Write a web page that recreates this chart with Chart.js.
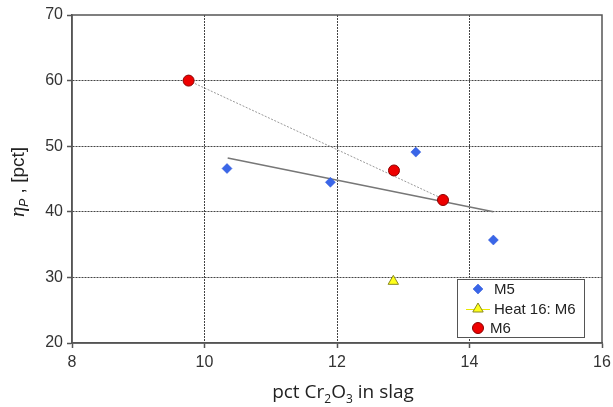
<!DOCTYPE html>
<html>
<head>
<meta charset="utf-8">
<script src="https://cdn.jsdelivr.net/npm/chart.js@4"></script>
<style>
  html, body { margin: 0; padding: 0; background: #fff; }
  #wrap { width: 613px; height: 407px; position: relative; }
</style>
</head>
<body>
<div id="wrap"><canvas id="grafico"></canvas></div>
<script>
// datos
const xTicks = [8, 10, 12, 14, 16];
const yTicks = [20, 30, 40, 50, 60, 70];

const m5X = [10.34, 11.90, 13.19, 14.36];
const m5Y = [46.6, 44.5, 49.1, 35.7];

const heatX = [12.85];
const heatY = [29.4];

const m6X = [9.76, 12.86, 13.60];
const m6Y = [60.0, 46.3, 41.8];

// lineas de tendencia (extremos)
const fitM5X = [10.35, 14.36];
const fitM5Y = [48.2, 40.0];
const fitM6X = [9.76, 13.55];
const fitM6Y = [60.0, 42.2];

const legendLabels = ['M5', 'Heat 16: M6', 'M6'];

const pares = (xs, ys) => xs.map((x, i) => ({ x: x, y: ys[i] }));

// leyenda dentro del area
const leyendaPlugin = {
    id: 'leyenda',
    afterDraw(chart) {
        const ctx = chart.ctx;
        const bx = 457, by = 279, bw = 127, bh = 58;
        ctx.save();
        ctx.fillStyle = '#fff';
        ctx.fillRect(bx, by, bw, bh);
        ctx.strokeStyle = '#555';
        ctx.lineWidth = 1;
        ctx.strokeRect(bx + 0.5, by + 0.5, bw, bh);

        const filas = [289, 309, 328];
        const ds = chart.data.datasets;
        ctx.font = '15px "Liberation Sans", Arial, sans-serif';
        ctx.textBaseline = 'middle';
        legendLabels.forEach((txt, i) => {
            const d = ds[i];
            const y = filas[i];
            if (i === 1) {
                ctx.strokeStyle = '#e8e800';
                ctx.lineWidth = 1;
                ctx.beginPath();
                ctx.moveTo(466, y + 0.5);
                ctx.lineTo(490, y + 0.5);
                ctx.stroke();
            }
            ctx.fillStyle = d.backgroundColor;
            ctx.strokeStyle = d.borderColor;
            ctx.lineWidth = d.borderWidth;
            Chart.helpers.drawPoint(ctx, {
                pointStyle: d.pointStyle,
                radius: d.pointRadius,
                rotation: 0,
                borderWidth: d.borderWidth
            }, 478, y);
            ctx.fillStyle = '#222';
            ctx.fillText(txt, i === 2 ? 490 : 494, y + 1);
        });
        ctx.restore();
    }
};

// marco y titulos de ejes
const marcoPlugin = {
    id: 'marco',
    beforeDatasetsDraw(chart) {
        const a = chart.chartArea;
        const ctx = chart.ctx;
        ctx.save();
        ctx.strokeStyle = '#555';
        ctx.lineWidth = 1.5;
        ctx.strokeRect(a.left, a.top, a.right - a.left, a.bottom - a.top);
        ctx.restore();
    },
    afterDraw(chart) {
        const ctx = chart.ctx;
        ctx.save();
        ctx.fillStyle = '#222';
        ctx.textBaseline = 'alphabetic';

        // titulo eje x con subindices
        const partes = [
            ['pct Cr', 19, 0], ['2', 12, 5], ['O', 19, 0], ['3', 12, 5], [' in slag', 19, 0]
        ];
        const fuente = s => s + 'px "Open Sans", sans-serif';
        let total = 0;
        partes.forEach(p => { ctx.font = fuente(p[1]); total += ctx.measureText(p[0]).width; });
        let x = 343 - total / 2;
        partes.forEach(p => {
            ctx.font = fuente(p[1]);
            ctx.fillText(p[0], x, 398 + p[2]);
            x += ctx.measureText(p[0]).width;
        });

        // titulo eje y
        ctx.translate(24, 182);
        ctx.rotate(-Math.PI / 2);
        const py = [
            ['\u03b7', 'italic 21px "Liberation Serif", serif', 0],
            ['P', 'italic 12px "Liberation Sans", sans-serif', 4],
            [' , [pct]', '19px "Liberation Sans", sans-serif', 0]
        ];
        total = 0;
        py.forEach(p => { ctx.font = p[1]; total += ctx.measureText(p[0]).width; });
        x = -total / 2;
        py.forEach(p => {
            ctx.font = p[1];
            ctx.fillText(p[0], x, p[2]);
            x += ctx.measureText(p[0]).width;
        });
        ctx.restore();
    }
};

const colorRejilla = c => (c.tick && (c.tick.value === xTicks[0] || c.tick.value === xTicks[xTicks.length - 1]
    || c.tick.value === yTicks[0] || c.tick.value === yTicks[yTicks.length - 1])) ? 'rgba(0,0,0,0)' : '#444';

const fuenteTicks = { family: '"Liberation Sans", Arial, sans-serif', size: 16 };

new Chart(document.getElementById('grafico'), {
    type: 'scatter',
    data: {
        datasets: [
            {
                label: legendLabels[0],
                data: pares(m5X, m5Y),
                pointStyle: 'rectRot',
                pointRadius: 5,
                backgroundColor: '#3a66e8',
                borderColor: '#2a55d8',
                borderWidth: 0.5
            },
            {
                label: legendLabels[1],
                data: pares(heatX, heatY),
                pointStyle: 'triangle',
                pointRadius: 6,
                backgroundColor: '#ffff1a',
                borderColor: '#8a8a20',
                borderWidth: 1
            },
            {
                label: legendLabels[2],
                data: pares(m6X, m6Y),
                pointStyle: 'circle',
                pointRadius: 5.5,
                backgroundColor: '#ee0000',
                borderColor: '#8a0000',
                borderWidth: 1
            },
            {
                label: 'fit M5',
                data: pares(fitM5X, fitM5Y),
                showLine: true,
                pointRadius: 0,
                borderColor: '#777',
                borderWidth: 1.5
            },
            {
                label: 'fit M6',
                data: pares(fitM6X, fitM6Y),
                showLine: true,
                pointRadius: 0,
                borderColor: '#999',
                borderWidth: 1,
                borderDash: [2, 1.5]
            }
        ]
    },
    options: {
        responsive: true,
        maintainAspectRatio: false,
        animation: false,
        layout: { padding: { top: 15, right: 11, left: 0, bottom: 0 } },
        plugins: {
            legend: { display: false },
            tooltip: { enabled: false }
        },
        scales: {
            x: {
                type: 'linear',
                min: xTicks[0],
                max: xTicks[xTicks.length - 1],
                afterBuildTicks: s => { s.ticks = xTicks.map(v => ({ value: v })); },
                afterFit: s => { s.height = 64; s.paddingLeft = 0; s.paddingRight = 0; },
                ticks: { font: fuenteTicks, color: '#333', padding: 5 },
                grid: {
                    color: colorRejilla,
                    lineWidth: 1,
                    tickLength: 5,
                    tickColor: '#555',
                    tickWidth: 1.5,
                    tickBorderDash: []
                },
                border: { display: true, color: '#555', width: 1.5, dash: [2, 1] }
            },
            y: {
                type: 'linear',
                min: yTicks[0],
                max: yTicks[yTicks.length - 1],
                afterBuildTicks: s => { s.ticks = yTicks.map(v => ({ value: v })); },
                afterFit: s => { s.width = 72; s.paddingTop = 0; s.paddingBottom = 0; },
                ticks: { font: fuenteTicks, color: '#333', padding: 4 },
                grid: {
                    color: colorRejilla,
                    lineWidth: 1,
                    tickLength: 5,
                    tickColor: '#555',
                    tickWidth: 1.5,
                    tickBorderDash: []
                },
                border: { display: true, color: '#555', width: 1.5, dash: [2, 1] }
            }
        }
    },
    plugins: [marcoPlugin, leyendaPlugin]
});
</script>
</body>
</html>
